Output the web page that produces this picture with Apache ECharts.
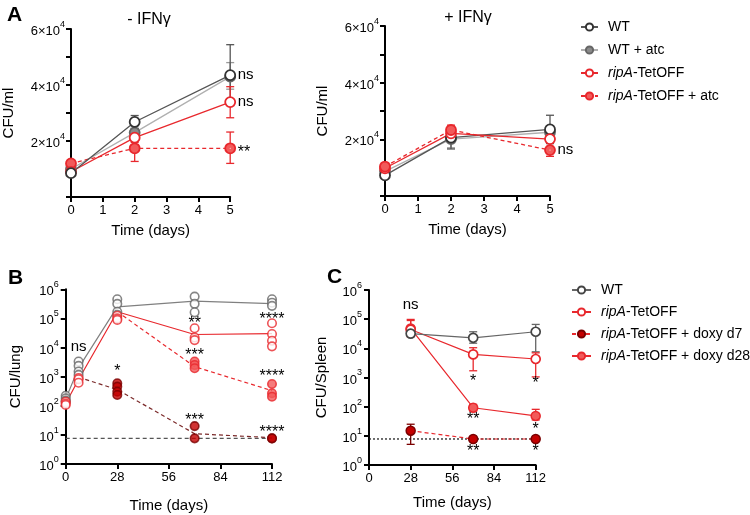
<!DOCTYPE html>
<html><head><meta charset="utf-8">
<script src="https://cdn.jsdelivr.net/npm/echarts@6/dist/echarts.min.js"></script>
<style>html,body{margin:0;padding:0;background:#fff}#c{width:750px;height:515px}</style>
</head><body><div id="c"></div>
<script>
// ---------- DATA ----------
const daysA = [0, 2, 5];
// Panel A, - IFNγ (CFU/ml)
const aMinusWT = [8500, 26800, 43500];
const aMinusWTatc = [10000, 23000, 43000];
const aMinusRip = [9000, 21200, 33900];
const aMinusRipAtc = [12000, 17400, 17400];
const aMinusWTerr = [[2, 24500, 29100], [5, 33000, 54400]];
const aMinusWTatcErr = [[2, 21500, 24500], [5, 38500, 48000]];
const aMinusRipErr = [[2, 19500, 23000], [5, 28300, 39400]];
const aMinusRipAtcErr = [[2, 12700, 20600], [5, 12000, 23200]];
const aMinusNotes = [[5, 43500, 'ns'], [5, 33900, 'ns'], [5, 17400, '**']];
// Panel A, + IFNγ
const aPlusWT = [7300, 20600, 23500];
const aPlusWTatc = [8700, 20100, 22500];
const aPlusRip = [9800, 22100, 20100];
const aPlusRipAtc = [10400, 23300, 16200];
const aPlusWTerr = [[2, 16600, 22000], [5, 18500, 28500]];
const aPlusWTatcErr = [[2, 17000, 21500]];
const aPlusRipErr = [[2, 20500, 24000], [5, 19000, 21500]];
const aPlusRipAtcErr = [[2, 21500, 25000], [5, 14000, 17500]];
const aPlusNotes = [[5, 16200, 'ns']];
const aTicks = ['2×10', '4×10', '6×10'];

// Panel B, CFU/lung, individual mice
const bWTpts = [[0,220],[0,180],[0,150],[0,140],[7,3300],[7,2350],[7,1500],[7,1150],
  [28,457000],[28,316000],[28,170000],[28,132000],[70,562000],[70,316000],[70,162000],
  [112,457000],[112,347000],[112,270000]];
const bRipPts = [[0,138],[0,120],[0,107],[7,900],[7,810],[7,620],[28,123000],[28,100000],[28,89000],
  [70,46000],[70,22000],[70,18000],[112,68000],[112,29000],[112,17000],[112,11000]];
const bD28Pts = [[70,3300],[70,2500],[70,1950],[112,560],[112,270],[112,205]];
const bD7Pts = [[28,590],[28,455],[28,305],[28,235],[70,20],[70,7.6],[112,7.6],[112,7.6]];
const bWTmean = [[0,170],[7,2000],[28,250000],[70,390000],[112,320000]];
const bRipMean = [[0,120],[7,800],[28,170000],[70,28000],[112,30000]];
const bD28Mean = [[28,170000],[70,2200],[112,330]];
const bD7Mean = [[7,950],[28,360],[70,11],[112,8]];
const bLOD = [[0,7.6],[112,7.6]];
const bNotes = [[7,10500,'ns'],[28,1100000,'ns'],[28,2000,'*'],[70,89000,'**'],[70,7000,'***'],
  [70,41,'***'],[112,130000,'****'],[112,1340,'****'],[112,17,'****']];

// Panel C, CFU/Spleen (mean ± error)
const cWT = [[28,32000],[70,23000],[112,37000]];
const cRip = [[28,44000],[70,6200],[112,4300]];
const cD28 = [[28,48000],[70,92],[112,48]];
const cD7 = [[28,15],[70,7.8],[112,7.8]];
const cLOD = [[0,7.8],[112,7.8]];
const cWTerr = [[28,28000,40000],[70,15000,37000],[112,7600,66000]];
const cRipErr = [[28,25000,98000],[70,1700,10500],[112,1050,7000]];
const cD28Err = [[28,30000,90000],[70,70,120],[112,35,81]];
const cD7Err = [[28,5.1,25]];
const cNotes = [[28,300000,'ns'],[70,1030,'*'],[70,51,'**'],[70,3.8,'**'],[112,815,'*'],[112,23,'*'],[112,4.1,'*']];
const daysTicksBC = [0, 28, 56, 84, 112];

// ---------- STYLE ----------
const FONT = 'Liberation Sans, Arial, Helvetica, sans-serif';
const RED = '#e8282d', LRED = '#f25a5a', DRED = '#c40000', DREDB = '#7a0000';
const axisLine = {show:true, lineStyle:{color:'#000', width:2}};
const axisTick = {show:true, length:5, lineStyle:{color:'#000', width:2}};
const supRich = {b:{fontSize:13, fontFamily:FONT, color:'#000', lineHeight:18, verticalAlign:'bottom'},
                 s:{fontSize:9, fontFamily:FONT, color:'#000', lineHeight:10, verticalAlign:'top'}};

function linSeries(name, xi, days, vals, o) {
  return Object.assign({type:'line', name, xAxisIndex:xi, yAxisIndex:xi, z:3,
    data: days.map((d,i)=>[d, vals[i]]), symbol:'circle', symbolSize:10, animation:false,
    lineStyle:{color:o.line, width:1.3, type:o.dash||'solid'},
    itemStyle:{color:o.fill, borderColor:o.border, borderWidth:1.8}}, o.extra||{});
}
function errSeries(xi, data, color) {
  return {type:'custom', xAxisIndex:xi, yAxisIndex:xi, silent:true, z:2, animation:false,
    encode:{x:0, y:[1,2]},
    renderItem(params, api){
      const x=api.value(0), lo=api.value(1), hi=api.value(2);
      const p1=api.coord([x,lo]), p2=api.coord([x,hi]); const w=4;
      const st={stroke:color, lineWidth:1.3};
      return {type:'group', children:[
        {type:'line', shape:{x1:p1[0],y1:p1[1],x2:p2[0],y2:p2[1]}, style:st},
        {type:'line', shape:{x1:p2[0]-w,y1:p2[1],x2:p2[0]+w,y2:p2[1]}, style:st},
        {type:'line', shape:{x1:p1[0]-w,y1:p1[1],x2:p1[0]+w,y2:p1[1]}, style:st}]};
    }, data};
}
function noteSeries(xi, notes, pos) {
  return {type:'scatter', xAxisIndex:xi, yAxisIndex:xi, silent:true, z:5, animation:false,
    symbolSize:1, itemStyle:{color:'#fff', opacity:1},
    data: notes.map(n=>({value:[n[0],n[1]], label:{formatter:n[2],
      fontSize: n[2].indexOf('*')>=0 ? 16 : 15,
      offset: n[2].indexOf('*')>=0 ? [0,4] : [0,0]}})),
    label:{show:true, position:pos, distance:pos==='right'?7:0, color:'#000', opacity:1,
      textBorderWidth:0, textBorderColor:'transparent', fontFamily:FONT}};
}
function ptsSeries(xi, pts, fill, border) {
  return {type:'scatter', xAxisIndex:xi, yAxisIndex:xi, z:4, animation:false, data:pts,
    symbol:'circle', symbolSize:8.5, itemStyle:{color:fill, borderColor:border, borderWidth:1.6}};
}
function lineXY(name, xi, data, color, dash, extra) {
  return Object.assign({type:'line', name, xAxisIndex:xi, yAxisIndex:xi, z:3, data, animation:false,
    symbol:'circle', showSymbol:false, lineStyle:{color, width:1.2, type:dash||'solid'}}, extra||{});
}
function legendFmt(name){
  const n = name.split('|')[0];
  if (n.indexOf('ripA') === 0) return '{i|ripA}{n|' + n.slice(4) + '}';
  return '{f|' + n + '}';
}
const legendRich = {i:{fontStyle:'italic', fontSize:14, fontFamily:FONT, color:'#000', padding:[0,0,0,5]},
                    n:{fontSize:14, fontFamily:FONT, color:'#000'},
                    f:{fontSize:14, fontFamily:FONT, color:'#000', padding:[0,0,0,5]}};

const linAxisX = (gi)=>({type:'value', gridIndex:gi, min:0, max:5, interval:1, axisLine, axisTick,
  splitLine:{show:false}, axisLabel:{color:'#000', fontSize:13, fontFamily:FONT, margin:7},
  name:'Time (days)', nameLocation:'middle', nameGap:26, nameTextStyle:{color:'#000', fontSize:15, fontFamily:FONT}});
const linAxisY = (gi)=>({type:'value', gridIndex:gi, min:0, max:60000, interval:10000, axisLine, axisTick,
  splitLine:{show:false}, axisLabel:{margin:6, rich:supRich,
    formatter:v=>{ if(v>0 && v%20000===0){ return '{b|'+aTicks[v/20000-1]+'}{s|4}'; } return ''; }},
  name:'CFU/ml', nameLocation:'middle', nameGap:55, nameTextStyle:{color:'#000', fontSize:15, fontFamily:FONT}});
const logAxisX = (gi, gap)=>({type:'value', gridIndex:gi, min:daysTicksBC[0], max:daysTicksBC[daysTicksBC.length-1],
  interval:28, axisLine, axisTick, splitLine:{show:false},
  axisLabel:{color:'#000', fontSize:13, fontFamily:FONT, margin:7},
  name:'Time (days)', nameLocation:'middle', nameGap:gap, nameTextStyle:{color:'#000', fontSize:15, fontFamily:FONT}});
const logAxisY = (gi, name, gap)=>({type:'log', gridIndex:gi, min:1, max:1e6, logBase:10, splitNumber:6,
  axisLine, axisTick, splitLine:{show:false},
  axisLabel:{margin:7, rich:supRich, formatter:v=>'{b|10}{s|'+Math.round(Math.log10(v))+'}'},
  name, nameLocation:'middle', nameGap:gap, nameTextStyle:{color:'#000', fontSize:15, fontFamily:FONT}});

const GREY = {line:'#555', fill:'#fff', border:'#333'};
const LGREY = {line:'#b0b0b0', fill:'#8a8a8a', border:'#666'};
const REDO = {line:RED, fill:'#fff', border:RED};
const REDF = {line:RED, fill:LRED, border:RED, dash:[4,3]};

const series = [
  // A minus
  errSeries(0, aMinusWTatcErr, '#999'), errSeries(0, aMinusWTerr, '#555'),
  errSeries(0, aMinusRipErr, RED), errSeries(0, aMinusRipAtcErr, RED),
  linSeries('WT + atc', 0, daysA, aMinusWTatc, LGREY),
  linSeries('ripA-TetOFF + atc', 0, daysA, aMinusRipAtc, REDF),
  linSeries('ripA-TetOFF', 0, daysA, aMinusRip, REDO),
  linSeries('WT', 0, daysA, aMinusWT, GREY),
  noteSeries(0, aMinusNotes, 'right'),
  // A plus
  errSeries(1, aPlusWTatcErr, '#999'), errSeries(1, aPlusWTerr, '#555'),
  errSeries(1, aPlusRipErr, RED), errSeries(1, aPlusRipAtcErr, RED),
  linSeries('WT + atc', 1, daysA, aPlusWTatc, LGREY),
  linSeries('WT', 1, daysA, aPlusWT, GREY),
  linSeries('ripA-TetOFF', 1, daysA, aPlusRip, REDO),
  linSeries('ripA-TetOFF + atc', 1, daysA, aPlusRipAtc, REDF),
  noteSeries(1, aPlusNotes, 'right'),
  // B
  lineXY('lodB', 2, bLOD, '#555', [4,3], {z:2}),
  lineXY('WT|B', 2, bWTmean, '#808080'),
  lineXY('ripA-TetOFF|B', 2, bRipMean, RED),
  lineXY('ripA-TetOFF + doxy d28|B', 2, bD28Mean, RED, [4,3]),
  lineXY('ripA-TetOFF + doxy d7|B', 2, bD7Mean, '#7b2a2a', [4,3]),
  ptsSeries(2, bWTpts, '#fff', '#666'),
  ptsSeries(2, bRipPts, '#fff', RED),
  ptsSeries(2, bD28Pts, LRED, RED),
  ptsSeries(2, bD7Pts, DRED, DREDB),
  noteSeries(2, bNotes, 'inside'),
  // C
  lineXY('lodC', 3, cLOD, '#111', [2,2], {z:2}),
  errSeries(3, cWTerr, '#666'), errSeries(3, cRipErr, RED), errSeries(3, cD28Err, RED), errSeries(3, cD7Err, DREDB),
  lineXY('ripA-TetOFF + doxy d7', 3, cD7, RED, [4,3], {showSymbol:true, symbolSize:9, itemStyle:{color:DRED, borderColor:DREDB, borderWidth:1.5}}),
  lineXY('ripA-TetOFF + doxy d28', 3, cD28, RED, 'solid', {showSymbol:true, symbolSize:9, itemStyle:{color:LRED, borderColor:RED, borderWidth:1.5}}),
  lineXY('ripA-TetOFF|C', 3, cRip, RED, 'solid', {showSymbol:true, symbolSize:9, itemStyle:{color:'#fff', borderColor:RED, borderWidth:1.7}}),
  lineXY('WT|C', 3, cWT, '#666', 'solid', {showSymbol:true, symbolSize:9, itemStyle:{color:'#fff', borderColor:'#444', borderWidth:1.7}}),
  noteSeries(3, cNotes, 'inside')
];

const option = {
  animation:false,
  textStyle:{fontFamily:FONT},
  title:[
    {text:'A', left:2, top:0, textStyle:{fontSize:21, fontWeight:'bold', color:'#000', fontFamily:FONT}},
    {text:'B', left:3, top:263, textStyle:{fontSize:21, fontWeight:'bold', color:'#000', fontFamily:FONT}},
    {text:'C', left:322, top:262, textStyle:{fontSize:21, fontWeight:'bold', color:'#000', fontFamily:FONT}},
    {text:'- IFNγ', left:144, top:7, textAlign:'center', textStyle:{fontSize:16, fontWeight:'normal', color:'#000', fontFamily:FONT}},
    {text:'+ IFNγ', left:463, top:5, textAlign:'center', textStyle:{fontSize:16, fontWeight:'normal', color:'#000', fontFamily:FONT}}
  ],
  legend:[
    {data:['WT','WT + atc','ripA-TetOFF','ripA-TetOFF + atc'], orient:'vertical', left:575, top:15,
     itemWidth:17, itemHeight:9, itemGap:9, formatter:legendFmt, textStyle:{rich:legendRich}, selectedMode:false},
    {data:['WT|C','ripA-TetOFF|C','ripA-TetOFF + doxy d7','ripA-TetOFF + doxy d28'], orient:'vertical', left:566, top:278,
     itemWidth:19, itemHeight:9, itemGap:8, formatter:legendFmt, textStyle:{rich:legendRich}, selectedMode:false}
  ],
  grid:[
    {left:66.7, top:29, width:163.5, height:168},
    {left:385, top:26, width:165, height:170},
    {left:65.7, top:289.3, width:206.3, height:174.7},
    {left:369, top:290, width:166.7, height:175}
  ],
  xAxis:[linAxisX(0), linAxisX(1), logAxisX(2, 34), logAxisX(3, 30)],
  yAxis:[linAxisY(0), linAxisY(1), logAxisY(2,'CFU/lung',42), logAxisY(3,'CFU/Spleen',40)],
  series
};
const chart = echarts.init(document.getElementById('c'), null, {renderer:'canvas'});
chart.setOption(option);
</script></body></html>
